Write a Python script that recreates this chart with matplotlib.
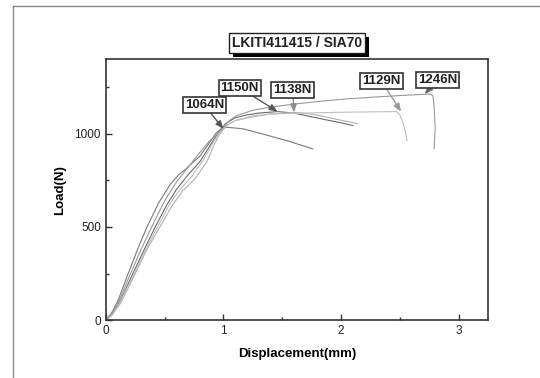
import matplotlib.pyplot as plt
import matplotlib.patheffects as pe
from matplotlib.lines import Line2D

plt.rcParams['font.family'] = ['Liberation Sans', 'DejaVu Sans']

# load-displacement curves (mm, N)
x_1064 = [0, 0.05, 0.10, 0.19, 0.27, 0.35, 0.45, 0.55, 0.62, 0.68, 0.74, 0.80,
          0.88, 0.94, 1.00, 1.10, 1.17, 1.35, 1.55, 1.76]
y_1064 = [0, 40, 100, 250, 380, 500, 630, 730, 780, 810, 845, 880,
          950, 1005, 1035, 1030, 1025, 995, 960, 918]

x_1150 = [0, 0.05, 0.12, 0.23, 0.32, 0.42, 0.52, 0.60, 0.70, 0.80, 0.88, 0.95,
          1.02, 1.10, 1.20, 1.30, 1.46, 1.60, 1.75, 1.90, 2.00, 2.10]
y_1150 = [0, 30, 100, 250, 370, 500, 620, 700, 780, 850, 930, 1000,
          1055, 1085, 1100, 1110, 1118, 1110, 1090, 1070, 1058, 1043]

x_1138 = [0, 0.05, 0.13, 0.25, 0.35, 0.46, 0.56, 0.65, 0.76, 0.86, 0.92, 0.97,
          1.03, 1.10, 1.25, 1.40, 1.60, 1.75, 1.90, 2.05, 2.14]
y_1138 = [0, 25, 95, 250, 380, 500, 610, 690, 760, 850, 940, 1000,
          1045, 1070, 1090, 1105, 1114, 1105, 1085, 1065, 1053]

x_1129 = [0, 0.05, 0.12, 0.24, 0.34, 0.44, 0.54, 0.63, 0.73, 0.83, 0.91, 0.96,
          1.02, 1.10, 1.25, 1.40, 1.70, 1.96, 2.20, 2.47, 2.50, 2.53, 2.55, 2.56]
y_1129 = [0, 30, 95, 250, 380, 500, 620, 700, 770, 860, 950, 1000,
          1040, 1070, 1095, 1105, 1110, 1114, 1116, 1118, 1100, 1050, 1000, 962]

x_1246 = [0, 0.05, 0.11, 0.21, 0.30, 0.39, 0.50, 0.60, 0.70, 0.80, 0.88, 0.95,
          1.00, 1.05, 1.11, 1.25, 1.39, 1.60, 1.82, 2.03, 2.24, 2.50, 2.75,
          2.78, 2.79, 2.80, 2.79]
y_1246 = [0, 35, 100, 250, 380, 500, 640, 740, 820, 900, 960, 1000,
          1034, 1070, 1096, 1125, 1141, 1158, 1173, 1185, 1194, 1204, 1212,
          1205, 1150, 1030, 920]

curves_x = [x_1064, x_1150, x_1138, x_1129, x_1246]
curves_y = [y_1064, y_1150, y_1138, y_1129, y_1246]
colors = ['#7a7a7a', '#6a6a6a', '#b0b0b0', '#bdbdbd', '#999999']

peak_labels = ['1064N', '1150N', '1138N', '1129N', '1246N']
peak_x = [1.00, 1.46, 1.60, 2.51, 2.71]
peak_y = [1025, 1118, 1114, 1118, 1212]
label_x = [0.837, 1.138, 1.587, 2.342, 2.822]
label_y = [1152, 1245, 1234, 1282, 1288]
arrow_colors = ['#555555', '#555555', '#8c8c8c', '#9a9a9a', '#666666']

fig = plt.figure(figsize=(5.4, 3.78), dpi=100)
ax = fig.add_axes([0.196, 0.153, 0.708, 0.691])

for xs, ys, c in zip(curves_x, curves_y, colors):
    ax.plot(xs, ys, color=c, lw=0.8)

for i in range(len(peak_labels)):
    ax.annotate(peak_labels[i], xy=(peak_x[i], peak_y[i]),
                xytext=(label_x[i], label_y[i]),
                ha='center', va='center', fontsize=9.5, fontweight='bold',
                color='#222222',
                bbox=dict(boxstyle='square,pad=0.15', fc='white',
                          ec='#333333', lw=1.2),
                arrowprops=dict(arrowstyle='-|>,head_length=0.5,head_width=0.2',
                                color=arrow_colors[i], lw=1.0,
                                shrinkA=0, shrinkB=0))

ax.set_xlim(0, 3.25)
ax.set_ylim(0, 1400)
ax.set_xticks([0, 1, 2, 3])
ax.set_xticks([0.5, 1.5, 2.5], minor=True)
ax.set_yticks([0, 500, 1000])
ax.set_yticks([250, 750, 1250], minor=True)
ax.tick_params(which='both', direction='in', labelsize=8.5, colors='#333333',
               labelcolor='#222222')
ax.tick_params(which='major', length=4, width=1.0)
ax.tick_params(which='minor', length=2.5, width=1.0)
for sp in ax.spines.values():
    sp.set_linewidth(1.2)
    sp.set_color('#333333')

ax.set_xlabel('Displacement(mm)', fontsize=9.5, fontweight='bold', labelpad=8)
ax.set_ylabel('Load(N)', fontsize=9.5, fontweight='bold', labelpad=6)

title = fig.text(0.55, 0.886, 'LKITI411415 / SIA70', ha='center', va='center',
                 fontsize=10, fontweight='bold', color='#222222',
                 bbox=dict(boxstyle='square,pad=0.2', fc='white', ec='#222222',
                           lw=1.0))
title.get_bbox_patch().set_path_effects([
    pe.SimplePatchShadow(offset=(3, -3), shadow_rgbFace='black', alpha=1.0),
    pe.Normal()])

# page frame lines at top and left
fig.add_artist(Line2D([13 / 540, 1], [1 - 6 / 378, 1 - 6 / 378],
                      transform=fig.transFigure, color='#888888', lw=1.0))
fig.add_artist(Line2D([13 / 540, 13 / 540], [0, 1 - 6 / 378],
                      transform=fig.transFigure, color='#888888', lw=1.0))

fig.savefig('out.png', dpi=100)
